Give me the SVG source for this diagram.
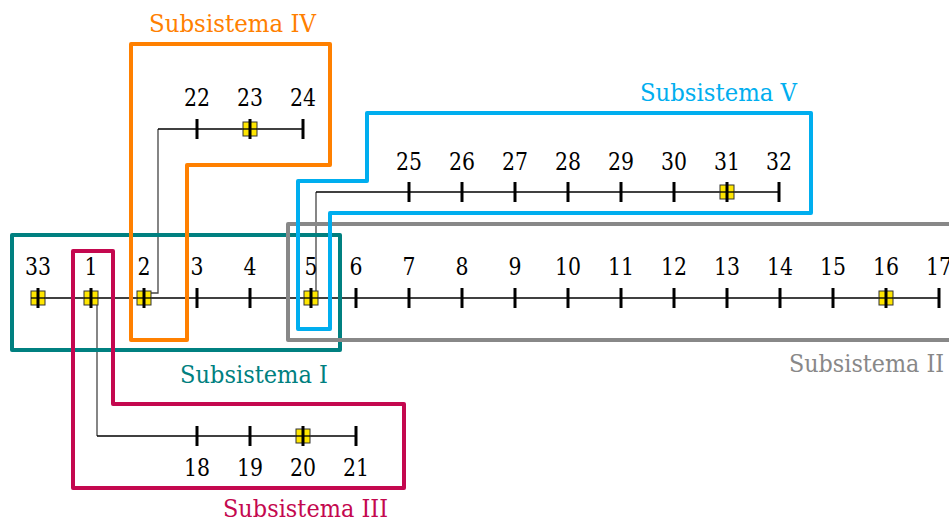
<svg xmlns="http://www.w3.org/2000/svg" width="949" height="522" viewBox="0 0 949 522">
<style>
.lbl{font-family:"DejaVu Serif",serif;font-size:24px;fill:#000;text-anchor:middle}
.sub{font-family:"DejaVu Serif",serif;font-size:24.5px}
.tick{stroke:#000;stroke-width:3}
.line{stroke:#000;stroke-width:1.3;fill:none}
.br{stroke:#444;stroke-width:1.3;fill:none}
.gen{fill:#FFE600;stroke:#333;stroke-width:1}
.box{fill:none;stroke-width:4;stroke-linejoin:round}
</style>
<rect width="949" height="522" fill="#fff"/>
<g id="connectors">
<line class="line" x1="38" y1="298" x2="939" y2="298"/>
<path class="br" d="M151,293 H158 V129"/>
<line class="line" x1="158" y1="129" x2="303" y2="129"/>
<path class="br" d="M316,293 V192"/>
<line class="line" x1="316" y1="192" x2="779" y2="192"/>
<path class="br" d="M97,305 V436"/>
<line class="line" x1="97" y1="436" x2="356" y2="436"/>
</g>
<g id="buses">
<g id="bus33"><rect class="gen" x="31" y="291" width="14" height="14"/><line class="line" x1="31" y1="298" x2="45" y2="298"/><line class="tick" x1="38" y1="288" x2="38" y2="308"/><text class="lbl" x="38" y="275" textLength="26" lengthAdjust="spacingAndGlyphs">33</text></g>
<g id="bus1"><rect class="gen" x="84" y="291" width="14" height="14"/><line class="line" x1="84" y1="298" x2="98" y2="298"/><line class="tick" x1="91" y1="288" x2="91" y2="308"/><text class="lbl" x="91" y="275" textLength="13" lengthAdjust="spacingAndGlyphs">1</text></g>
<g id="bus2"><rect class="gen" x="137" y="291" width="14" height="14"/><line class="line" x1="137" y1="298" x2="151" y2="298"/><line class="tick" x1="144" y1="288" x2="144" y2="308"/><text class="lbl" x="144" y="275" textLength="13" lengthAdjust="spacingAndGlyphs">2</text></g>
<g id="bus3"><line class="tick" x1="197" y1="288" x2="197" y2="308"/><text class="lbl" x="197" y="275" textLength="13" lengthAdjust="spacingAndGlyphs">3</text></g>
<g id="bus4"><line class="tick" x1="250" y1="288" x2="250" y2="308"/><text class="lbl" x="250" y="275" textLength="13" lengthAdjust="spacingAndGlyphs">4</text></g>
<g id="bus5"><rect class="gen" x="304" y="291" width="14" height="14"/><line class="line" x1="304" y1="298" x2="318" y2="298"/><line class="tick" x1="311" y1="288" x2="311" y2="308"/><text class="lbl" x="311" y="275" textLength="13" lengthAdjust="spacingAndGlyphs">5</text></g>
<g id="bus6"><line class="tick" x1="356" y1="288" x2="356" y2="308"/><text class="lbl" x="356" y="275" textLength="13" lengthAdjust="spacingAndGlyphs">6</text></g>
<g id="bus7"><line class="tick" x1="409" y1="288" x2="409" y2="308"/><text class="lbl" x="409" y="275" textLength="13" lengthAdjust="spacingAndGlyphs">7</text></g>
<g id="bus8"><line class="tick" x1="462" y1="288" x2="462" y2="308"/><text class="lbl" x="462" y="275" textLength="13" lengthAdjust="spacingAndGlyphs">8</text></g>
<g id="bus9"><line class="tick" x1="515" y1="288" x2="515" y2="308"/><text class="lbl" x="515" y="275" textLength="13" lengthAdjust="spacingAndGlyphs">9</text></g>
<g id="bus10"><line class="tick" x1="568" y1="288" x2="568" y2="308"/><text class="lbl" x="568" y="275" textLength="26" lengthAdjust="spacingAndGlyphs">10</text></g>
<g id="bus11"><line class="tick" x1="621" y1="288" x2="621" y2="308"/><text class="lbl" x="621" y="275" textLength="26" lengthAdjust="spacingAndGlyphs">11</text></g>
<g id="bus12"><line class="tick" x1="674" y1="288" x2="674" y2="308"/><text class="lbl" x="674" y="275" textLength="26" lengthAdjust="spacingAndGlyphs">12</text></g>
<g id="bus13"><line class="tick" x1="727" y1="288" x2="727" y2="308"/><text class="lbl" x="727" y="275" textLength="26" lengthAdjust="spacingAndGlyphs">13</text></g>
<g id="bus14"><line class="tick" x1="780" y1="288" x2="780" y2="308"/><text class="lbl" x="780" y="275" textLength="26" lengthAdjust="spacingAndGlyphs">14</text></g>
<g id="bus15"><line class="tick" x1="833" y1="288" x2="833" y2="308"/><text class="lbl" x="833" y="275" textLength="26" lengthAdjust="spacingAndGlyphs">15</text></g>
<g id="bus16"><rect class="gen" x="879" y="291" width="14" height="14"/><line class="line" x1="879" y1="298" x2="893" y2="298"/><line class="tick" x1="886" y1="288" x2="886" y2="308"/><text class="lbl" x="886" y="275" textLength="26" lengthAdjust="spacingAndGlyphs">16</text></g>
<g id="bus17"><line class="tick" x1="939" y1="288" x2="939" y2="308"/><text class="lbl" x="939" y="275" textLength="26" lengthAdjust="spacingAndGlyphs">17</text></g>
<g id="bus18"><line class="tick" x1="197" y1="426" x2="197" y2="446"/><text class="lbl" x="197" y="476" textLength="26" lengthAdjust="spacingAndGlyphs">18</text></g>
<g id="bus19"><line class="tick" x1="250" y1="426" x2="250" y2="446"/><text class="lbl" x="250" y="476" textLength="26" lengthAdjust="spacingAndGlyphs">19</text></g>
<g id="bus20"><rect class="gen" x="296" y="429" width="14" height="14"/><line class="line" x1="296" y1="436" x2="310" y2="436"/><line class="tick" x1="303" y1="426" x2="303" y2="446"/><text class="lbl" x="303" y="476" textLength="26" lengthAdjust="spacingAndGlyphs">20</text></g>
<g id="bus21"><line class="tick" x1="356" y1="426" x2="356" y2="446"/><text class="lbl" x="356" y="476" textLength="26" lengthAdjust="spacingAndGlyphs">21</text></g>
<g id="bus22"><line class="tick" x1="197" y1="119" x2="197" y2="139"/><text class="lbl" x="197" y="106" textLength="26" lengthAdjust="spacingAndGlyphs">22</text></g>
<g id="bus23"><rect class="gen" x="243" y="122" width="14" height="14"/><line class="line" x1="243" y1="129" x2="257" y2="129"/><line class="tick" x1="250" y1="119" x2="250" y2="139"/><text class="lbl" x="250" y="106" textLength="26" lengthAdjust="spacingAndGlyphs">23</text></g>
<g id="bus24"><line class="tick" x1="303" y1="119" x2="303" y2="139"/><text class="lbl" x="303" y="106" textLength="26" lengthAdjust="spacingAndGlyphs">24</text></g>
<g id="bus25"><line class="tick" x1="409" y1="182" x2="409" y2="202"/><text class="lbl" x="409" y="170" textLength="26" lengthAdjust="spacingAndGlyphs">25</text></g>
<g id="bus26"><line class="tick" x1="462" y1="182" x2="462" y2="202"/><text class="lbl" x="462" y="170" textLength="26" lengthAdjust="spacingAndGlyphs">26</text></g>
<g id="bus27"><line class="tick" x1="515" y1="182" x2="515" y2="202"/><text class="lbl" x="515" y="170" textLength="26" lengthAdjust="spacingAndGlyphs">27</text></g>
<g id="bus28"><line class="tick" x1="568" y1="182" x2="568" y2="202"/><text class="lbl" x="568" y="170" textLength="26" lengthAdjust="spacingAndGlyphs">28</text></g>
<g id="bus29"><line class="tick" x1="621" y1="182" x2="621" y2="202"/><text class="lbl" x="621" y="170" textLength="26" lengthAdjust="spacingAndGlyphs">29</text></g>
<g id="bus30"><line class="tick" x1="674" y1="182" x2="674" y2="202"/><text class="lbl" x="674" y="170" textLength="26" lengthAdjust="spacingAndGlyphs">30</text></g>
<g id="bus31"><rect class="gen" x="720" y="185" width="14" height="14"/><line class="line" x1="720" y1="192" x2="734" y2="192"/><line class="tick" x1="727" y1="182" x2="727" y2="202"/><text class="lbl" x="727" y="170" textLength="26" lengthAdjust="spacingAndGlyphs">31</text></g>
<g id="bus32"><line class="tick" x1="779" y1="182" x2="779" y2="202"/><text class="lbl" x="779" y="170" textLength="26" lengthAdjust="spacingAndGlyphs">32</text></g>
</g>
<g id="subsistema1">
<rect class="box" x="12" y="235" width="328" height="115" stroke="#008080"/>
<text class="sub" x="180" y="383" fill="#008080" textLength="148" lengthAdjust="spacingAndGlyphs">Subsistema I</text>
</g>
<g id="subsistema2">
<path class="box" d="M960,224 H288 V340 H960" stroke="#888888"/>
<text class="sub" x="789" y="372" fill="#888888" textLength="155" lengthAdjust="spacingAndGlyphs">Subsistema II</text>
</g>
<g id="subsistema3">
<path class="box" d="M73,251 H113 V404 H404 V488 H73 Z" stroke="#C4084F"/>
<text class="sub" x="223" y="517" fill="#C4084F" textLength="165" lengthAdjust="spacingAndGlyphs">Subsistema III</text>
</g>
<g id="subsistema4">
<path class="box" d="M131,44 H330 V165 H187 V340 H131 Z" stroke="#FF8000"/>
<text class="sub" x="149" y="32" fill="#FF8000" textLength="167" lengthAdjust="spacingAndGlyphs">Subsistema IV</text>
</g>
<g id="subsistema5">
<path class="box" d="M298,181 H367 V113 H811 V213 H330 V329 H298 Z" stroke="#00AEEF"/>
<text class="sub" x="640" y="101" fill="#00AEEF" textLength="157" lengthAdjust="spacingAndGlyphs">Subsistema V</text>
</g>
</svg>
